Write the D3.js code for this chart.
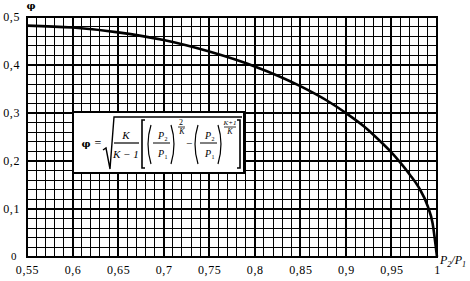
<!DOCTYPE html>
<html>
<head>
  <meta charset="utf-8">
  <script src="https://d3js.org/d3.v7.min.js"></script>
  <style>
    body { margin: 0; background: #fff; }
    text { font-family: "Liberation Serif", "DejaVu Serif", serif; fill: #000; }
  </style>
</head>
<body>
<script>
  // Data
  var ratio = [0.55, 0.6, 0.65, 0.7, 0.75, 0.8, 0.85, 0.88, 0.9, 0.92, 0.94, 0.95, 0.96, 0.97, 0.98, 0.99, 0.995, 1];
  var phi = [0.482, 0.478, 0.468, 0.452, 0.428, 0.397, 0.356, 0.325, 0.300, 0.272, 0.237, 0.218, 0.196, 0.172, 0.145, 0.105, 0.072, 0];
  var xTicks = [0.55, 0.6, 0.65, 0.7, 0.75, 0.8, 0.85, 0.9, 0.95, 1];
  var xTickLabels = ["0,55", "0,6", "0,65", "0,7", "0,75", "0,8", "0,85", "0,9", "0,95", "1"];
  var yTicks = [0, 0.1, 0.2, 0.3, 0.4, 0.5];
  var yTickLabels = ["0", "0,1", "0,2", "0,3", "0,4", "0,5"];

  var width = 470, height = 281;
  var x = d3.scaleLinear().domain([0.55, 1]).range([27, 437]);
  var y = d3.scaleLinear().domain([0, 0.5]).range([257, 17]);

  var svg = d3.select("body").append("svg")
    .attr("width", width)
    .attr("height", height);

  // Grid
  var grid = svg.append("g").attr("shape-rendering", "crispEdges");
  var xs = d3.range(0, 46).map(function(i) { return 0.55 + i * 0.01; });
  var ys = d3.range(0, 26).map(function(i) { return i * 0.02; });

  grid.selectAll("line.v")
    .data(xs)
    .enter().append("line")
    .attr("x1", function(d) { return x(d); })
    .attr("x2", function(d) { return x(d); })
    .attr("y1", y(0.5))
    .attr("y2", y(0))
    .attr("stroke", "#000")
    .attr("stroke-width", function(d, i) { return i % 5 === 0 ? 2 : 1; });

  grid.selectAll("line.h")
    .data(ys)
    .enter().append("line")
    .attr("x1", x(0.55))
    .attr("x2", x(1))
    .attr("y1", function(d) { return y(d); })
    .attr("y2", function(d) { return y(d); })
    .attr("stroke", "#000")
    .attr("stroke-width", function(d, i) { return i % 5 === 0 ? 2 : 1; });

  // Frame
  svg.append("rect")
    .attr("x", x(0.55))
    .attr("y", y(0.5))
    .attr("width", x(1) - x(0.55))
    .attr("height", y(0) - y(0.5))
    .attr("fill", "none")
    .attr("stroke", "#000")
    .attr("stroke-width", 2)
    .attr("shape-rendering", "crispEdges");

  // Axes (labels only)
  var xAxis = d3.axisBottom(x)
    .tickValues(xTicks)
    .tickFormat(function(d, i) { return xTickLabels[i]; })
    .tickSize(0)
    .tickPadding(8);
  var gx = svg.append("g")
    .attr("transform", "translate(0," + y(0) + ")")
    .call(xAxis);
  gx.select(".domain").remove();
  gx.selectAll("text")
    .style("font-family", "'Liberation Serif', serif")
    .style("font-size", "12px")
    .style("letter-spacing", "0.6px")
    .attr("fill", "#000");

  var yAxis = d3.axisLeft(y)
    .tickValues(yTicks)
    .tickFormat(function(d, i) { return yTickLabels[i]; })
    .tickSize(0)
    .tickPadding(7);
  var gy = svg.append("g")
    .attr("transform", "translate(" + x(0.55) + ",0)")
    .call(yAxis);
  gy.select(".domain").remove();
  gy.selectAll("text")
    .style("font-family", "'Liberation Serif', serif")
    .style("font-size", "12px")
    .style("letter-spacing", "0.6px")
    .attr("fill", "#000");
  // keep the "0" clear of "0,55"
  gy.selectAll("text").filter(function(d) { return d === 0; })
    .style("font-size", "11px")
    .attr("dy", "0.2em")
    .attr("x", -10);

  // Axis titles
  svg.append("text")
    .attr("x", 31)
    .attr("y", 9)
    .attr("text-anchor", "middle")
    .style("font-family", "'DejaVu Serif', serif")
    .style("font-size", "10px")
    .style("font-weight", "bold")
    .text("φ");

  var xt = svg.append("text")
    .attr("x", 440)
    .attr("y", 264)
    .style("font-size", "12px")
    .style("font-style", "italic");
  xt.append("tspan").text("P");
  xt.append("tspan").attr("dy", 3).style("font-size", "8px").text("2");
  xt.append("tspan").attr("dy", -3).text("/");
  xt.append("tspan").text("P");
  xt.append("tspan").attr("dy", 3).style("font-size", "8px").text("1");

  // Curve
  var line = d3.line()
    .x(function(d, i) { return x(ratio[i]); })
    .y(function(d) { return y(d); })
    .curve(d3.curveMonotoneX);

  svg.append("path")
    .datum(phi)
    .attr("d", line)
    .attr("fill", "none")
    .attr("stroke", "#000")
    .attr("stroke-width", 2.6);

  // Formula box
  var fb = svg.append("g");
  fb.append("rect")
    .attr("x", 73)
    .attr("y", 112)
    .attr("width", 171)
    .attr("height", 61)
    .attr("fill", "#fff")
    .attr("stroke", "#000")
    .attr("stroke-width", 2)
    .attr("shape-rendering", "crispEdges");

  function t(tx, ty, s, size, italic, anchor) {
    return fb.append("text")
      .attr("x", tx)
      .attr("y", ty)
      .attr("text-anchor", anchor || "middle")
      .style("font-size", size + "px")
      .style("font-style", italic ? "italic" : "normal")
      .text(s);
  }
  function hbar(x1, x2, yy, w) {
    fb.append("line")
      .attr("x1", x1).attr("x2", x2)
      .attr("y1", yy).attr("y2", yy)
      .attr("stroke", "#000")
      .attr("stroke-width", w || 1);
  }
  function p(d, w) {
    fb.append("path")
      .attr("d", d)
      .attr("fill", "none")
      .attr("stroke", "#000")
      .attr("stroke-width", w || 1.2);
  }

  t(86, 147, "φ", 10, false)
    .style("font-family", "'DejaVu Serif', serif")
    .style("font-weight", "bold");
  t(98, 147, "=", 12, false);
  // sqrt sign
  p("M103,150 L106,148 L110,169 L114,117 L242,117", 1.4);
  // K / (K-1)
  t(126, 139, "K", 11, true);
  hbar(114, 139, 143, 1.2);
  t(126, 158, "K − 1", 11, true);
  // big brackets
  p("M145,120 L142,120 L142,168 L145,168", 1.6);
  p("M237,120 L240,120 L240,168 L237,168", 1.6);
  // first parentheses
  p("M151,125 Q145,144 151,164", 1.2);
  p("M171,125 Q177,144 171,164", 1.2);
  t(161, 139, "P", 10, true);
  t(166, 141, "2", 6, false);
  hbar(153, 170, 143, 1);
  t(161, 157, "P", 10, true);
  t(166, 159, "1", 6, false);
  // exponent 2/K
  t(181, 125, "2", 8, false);
  hbar(178, 185, 127, 0.8);
  t(182, 134, "K", 8, true);
  // minus
  t(189, 147, "−", 11, false);
  // second parentheses
  p("M198,125 Q192,144 198,164", 1.2);
  p("M218,125 Q224,144 218,164", 1.2);
  t(208, 139, "P", 10, true);
  t(213, 141, "2", 6, false);
  hbar(200, 217, 143, 1);
  t(208, 157, "P", 10, true);
  t(213, 159, "1", 6, false);
  // exponent (K+1)/K
  t(230, 125, "K+1", 7, true);
  hbar(224, 236, 127, 0.8);
  t(230, 134, "K", 8, true);
</script>
</body>
</html>
